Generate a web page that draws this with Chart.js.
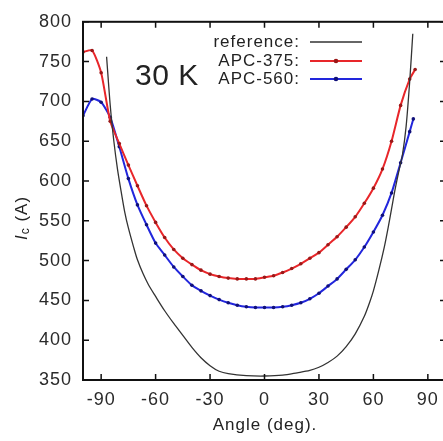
<!DOCTYPE html>
<html>
<head>
<meta charset="utf-8">
<script src="https://cdn.jsdelivr.net/npm/chart.js@4/dist/chart.umd.min.js"></script>
<style>
  html, body { margin: 0; padding: 0; background: #fff; overflow: hidden; }
  canvas { display: block; }
</style>
</head>
<body>
<canvas id="icChart" width="460" height="441"></canvas>
<script>
// values
const refAngles = [-87, -85, -83, -81, -79, -77, -75, -72, -70, -67, -64, -60, -55, -50, -45, -40, -35, -30, -25, -20, -10, 0, 10, 18, 25, 30, 35, 40, 45, 50, 55, 58, 60, 63, 66, 68, 70, 72, 74, 76, 78, 80, 81.7];
const refValues = [756, 695, 650, 615, 587, 561, 541, 516, 501, 484, 470, 455, 437, 421, 406, 391, 378, 368, 361, 358, 355.5, 355, 356, 359, 362, 366, 372, 380, 392, 408, 430, 448, 462, 488, 517, 540, 565, 590, 612, 633, 668, 725, 785];

const apc375Angles = [-100, -95, -90, -85, -80, -75, -70, -65, -60, -55, -50, -45, -40, -35, -30, -25, -20, -15, -10, -5, 0, 5, 10, 15, 20, 25, 30, 35, 40, 45, 50, 55, 60, 65, 70, 75, 80, 83];
const apc375Values = [762, 764, 736, 675, 647, 620, 594, 569, 548, 529, 514, 503, 495, 488, 483, 480, 478, 477, 477, 477, 479, 481, 485, 490, 496, 503, 510, 520, 530, 542, 555, 572, 591, 615, 650, 695, 728, 740];

const apc560Angles = [-100, -95, -90, -85, -80, -75, -70, -65, -60, -55, -50, -45, -40, -35, -30, -25, -20, -15, -10, -5, 0, 5, 10, 15, 20, 25, 30, 35, 40, 45, 50, 55, 60, 65, 70, 75, 80, 82];
const apc560Values = [682, 703, 699, 680, 643, 603, 570, 545, 522, 507, 492, 480, 469, 462, 456, 451, 447, 444, 442, 441, 441, 441, 442, 444, 447, 452, 459, 468, 477, 489, 501, 517, 536, 557, 585, 623, 662, 678];

const xTicks = [-90, -60, -30, 0, 30, 60, 90];
const yTicks = [350, 400, 450, 500, 550, 600, 650, 700, 750, 800];

const seriesLabels = ["reference:", "APC-375:", "APC-560:"];
const tempLabel = "30 K";

function toPoints(xs, ys) {
    return xs.map((x, i) => ({x: x, y: ys[i]}));
}

const fontName = "'Liberation Sans', Arial, sans-serif";

// frame, inward ticks, legend and texts
const decorPlugin = {
    id: "decor",
    beforeDraw(chart) {
        chart.ctx.letterSpacing = "1px";
    },
    afterDraw(chart) {
        const ctx = chart.ctx;
        const a = chart.chartArea;
        const xs = chart.scales.x, ys = chart.scales.y;
        ctx.save();
        ctx.letterSpacing = "0px";
        ctx.strokeStyle = "#111";
        ctx.lineWidth = 2;
        ctx.strokeRect(a.left, a.top, a.right - a.left, a.bottom - a.top);

        ctx.lineWidth = 1.5;
        ctx.beginPath();
        xTicks.forEach(v => {
            const px = xs.getPixelForValue(v);
            ctx.moveTo(px, a.bottom); ctx.lineTo(px, a.bottom - 6);
            ctx.moveTo(px, a.top); ctx.lineTo(px, a.top + 6);
        });
        yTicks.forEach(v => {
            const py = ys.getPixelForValue(v);
            ctx.moveTo(a.left, py); ctx.lineTo(a.left + 6, py);
            ctx.moveTo(a.right, py); ctx.lineTo(a.right - 6, py);
        });
        ctx.stroke();

        // legend
        ctx.letterSpacing = "1px";
        ctx.font = "17px " + fontName;
        ctx.fillStyle = "#222";
        ctx.textAlign = "right";
        ctx.textBaseline = "middle";
        const rows = [42, 61, 79];
        chart.data.datasets.forEach((ds, i) => {
            const y = rows[i];
            ctx.fillText(ds.label, 300, y);
            ctx.strokeStyle = ds.borderColor;
            ctx.lineWidth = ds.borderWidth;
            ctx.beginPath();
            ctx.moveTo(310, y); ctx.lineTo(362, y);
            ctx.stroke();
            if (ds.pointRadius > 0) {
                ctx.fillStyle = ds.pointBackgroundColor;
                ctx.beginPath();
                ctx.arc(336, y, ds.pointRadius + 0.5, 0, Math.PI * 2);
                ctx.fill();
                ctx.fillStyle = "#222";
            }
        });

        // temperature
        ctx.letterSpacing = "0.5px";
        ctx.font = "30px " + fontName;
        ctx.textAlign = "left";
        ctx.fillText(tempLabel, 135, 77);

        // axis titles
        ctx.letterSpacing = "1px";
        ctx.font = "17px " + fontName;
        ctx.textAlign = "center";
        ctx.fillText("Angle (deg).", 265, 425);

        ctx.save();
        ctx.translate(22, 218);
        ctx.rotate(-Math.PI / 2);
        ctx.textAlign = "left";
        ctx.font = "italic 17px " + fontName;
        const w1 = ctx.measureText("I").width;
        ctx.font = "12px " + fontName;
        const w2 = ctx.measureText("c").width;
        ctx.font = "17px " + fontName;
        const w3 = ctx.measureText(" (A)").width;
        let x0 = -(w1 + w2 + w3) / 2;
        ctx.font = "italic 17px " + fontName;
        ctx.fillText("I", x0, 0);
        ctx.font = "12px " + fontName;
        ctx.fillText("c", x0 + w1, 4);
        ctx.font = "17px " + fontName;
        ctx.fillText(" (A)", x0 + w1 + w2, 0);
        ctx.restore();

        ctx.restore();
    }
};

new Chart(document.getElementById("icChart"), {
    type: "line",
    data: {
        datasets: [
            {
                label: seriesLabels[0],
                data: toPoints(refAngles, refValues),
                borderColor: "#333",
                borderWidth: 1.3,
                pointRadius: 0,
                tension: 0.3
            },
            {
                label: seriesLabels[1],
                data: toPoints(apc375Angles, apc375Values),
                borderColor: "#e8262a",
                borderWidth: 2,
                pointRadius: 1.8,
                pointBorderWidth: 0,
                pointBackgroundColor: "#9a1818",
                tension: 0.2
            },
            {
                label: seriesLabels[2],
                data: toPoints(apc560Angles, apc560Values),
                borderColor: "#2226dc",
                borderWidth: 2,
                pointRadius: 1.8,
                pointBorderWidth: 0,
                pointBackgroundColor: "#10107a",
                tension: 0.2
            }
        ]
    },
    options: {
        responsive: false,
        animation: false,
        layout: { padding: { top: 14, right: 14, left: 0, bottom: 0 } },
        plugins: { legend: { display: false }, tooltip: { enabled: false } },
        scales: {
            x: {
                type: "linear",
                min: -100,
                max: 100,
                afterBuildTicks: (scale) => { scale.ticks = xTicks.map(v => ({value: v})); },
                afterFit: (scale) => { scale.height = 61; },
                grid: { display: false, drawTicks: false },
                border: { display: false },
                ticks: {
                    padding: 9,
                    maxRotation: 0,
                    color: "#2a2a2a",
                    font: { family: fontName, size: 18 }
                }
            },
            y: {
                min: 350,
                max: 800,
                afterBuildTicks: (scale) => { scale.ticks = yTicks.map(v => ({value: v})); },
                afterFit: (scale) => { scale.width = 83; },
                grid: { display: false, drawTicks: false },
                border: { display: false },
                ticks: {
                    padding: 11,
                    color: "#2a2a2a",
                    font: { family: fontName, size: 18 }
                }
            }
        }
    },
    plugins: [decorPlugin]
});
</script>
</body>
</html>
